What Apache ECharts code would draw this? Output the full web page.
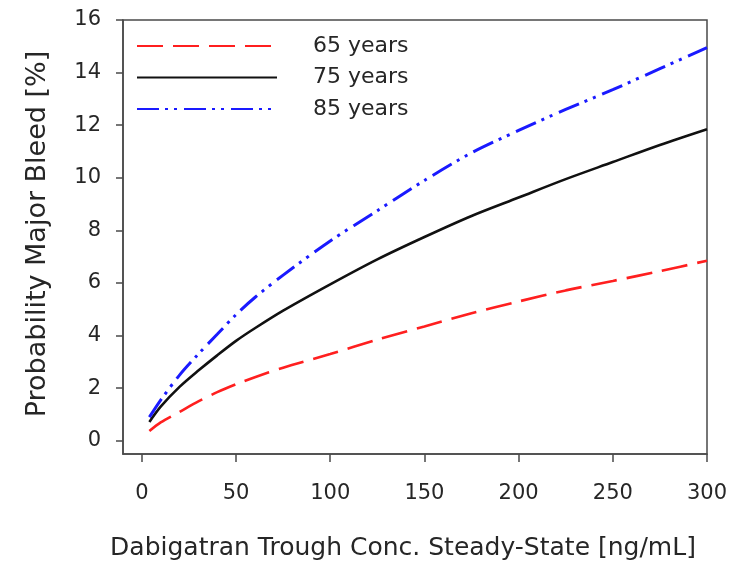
<!DOCTYPE html>
<html>
<head>
<meta charset="utf-8">
<script src="https://cdn.jsdelivr.net/npm/echarts@6/dist/echarts.min.js"></script>
<style>html,body{margin:0;padding:0;background:#fff}#c{width:732px;height:566px}</style>
</head>
<body>
<div id="c"></div>
<script>
var conc = [4, 10, 20, 30, 40, 50, 60, 75, 100, 125, 150, 175, 200, 225, 250, 275, 300];
var y65 = [0.37, 0.7, 1.1, 1.5, 1.85, 2.15, 2.42, 2.78, 3.3, 3.85, 4.35, 4.85, 5.3, 5.72, 6.08, 6.45, 6.85];
var y75 = [0.72, 1.3, 2.05, 2.67, 3.25, 3.8, 4.28, 4.95, 5.95, 6.9, 7.75, 8.55, 9.25, 9.95, 10.6, 11.25, 11.85];
var y85 = [0.9, 1.55, 2.5, 3.3, 4.05, 4.8, 5.45, 6.3, 7.6, 8.75, 9.9, 10.95, 11.8, 12.6, 13.35, 14.15, 14.95];
var seriesNames = ['65 years', '75 years', '85 years'];
var xTicks = [0, 50, 100, 150, 200, 250, 300];
var yTicks = [0, 2, 4, 6, 8, 10, 12, 14, 16];

function pairs(ys) { return conc.map(function (x, i) { return [x, ys[i]]; }); }

var font = 'DejaVu Sans';
var txt = '#262626';
var axisCol = '#4a4a4a';
var chart = echarts.init(document.getElementById('c'), null, { renderer: 'canvas' });
chart.setOption({
  animation: false,
  backgroundColor: '#fff',
  grid: { left: 123, right: 25, top: 20, bottom: 111, show: true, borderColor: axisCol, borderWidth: 1.5, backgroundColor: 'transparent' },
  legend: {
    orient: 'vertical', left: 131, top: 29,
    itemWidth: 140, itemHeight: 12, itemGap: 7.5,
    data: seriesNames,
    itemStyle: { opacity: 0, color: 'transparent', borderWidth: 0 },
    textStyle: { fontFamily: font, fontSize: 22, color: txt, padding: [0, 0, 0, 31], lineHeight: 24 }
  },
  xAxis: {
    type: 'value', min: -10, max: 300,
    name: 'Dabigatran Trough Conc. Steady-State [ng/mL]',
    nameLocation: 'middle', nameGap: 82,
    nameTextStyle: { fontFamily: font, fontSize: 25, color: txt, padding: [0, 24, 0, 0] },
    splitLine: { show: false },
    axisLine: { show: true, onZero: false, lineStyle: { color: axisCol, width: 1.5 } },
    axisTick: { show: true, inside: false, length: 8, customValues: xTicks, lineStyle: { color: axisCol, width: 1.5 } },
    axisLabel: { customValues: xTicks, margin: 29, fontFamily: font, fontSize: 21, color: txt }
  },
  yAxis: {
    type: 'value', min: -0.5, max: 16,
    name: 'Probability Major Bleed [%]',
    nameLocation: 'middle', nameRotate: 90, nameGap: 72,
    nameTextStyle: { fontFamily: font, fontSize: 27, color: txt, padding: [0, 0, 0, 6] },
    splitLine: { show: false },
    axisLine: { show: true, onZero: false, lineStyle: { color: axisCol, width: 1.5 } },
    axisTick: { show: true, inside: false, length: 7, customValues: yTicks, lineStyle: { color: axisCol, width: 1.5 } },
    axisLabel: { customValues: yTicks, margin: 22, fontFamily: font, fontSize: 21, color: txt }
  },
  series: [
    { name: seriesNames[0], type: 'line', smooth: 0.3, symbol: 'none', data: pairs(y65),
      lineStyle: { color: '#ff1f1f', width: 2.6, type: [26, 10] }, itemStyle: { color: '#ff1f1f' } },
    { name: seriesNames[1], type: 'line', smooth: 0.3, symbol: 'none', data: pairs(y75),
      lineStyle: { color: '#111111', width: 2.6, type: 'solid' }, itemStyle: { color: '#111111' } },
    { name: seriesNames[2], type: 'line', smooth: 0.3, symbol: 'none', data: pairs(y85),
      lineStyle: { color: '#1a1aff', width: 3, type: [22, 6, 3, 6, 3, 7] }, itemStyle: { color: '#1a1aff' } }
  ]
});
</script>
</body>
</html>
